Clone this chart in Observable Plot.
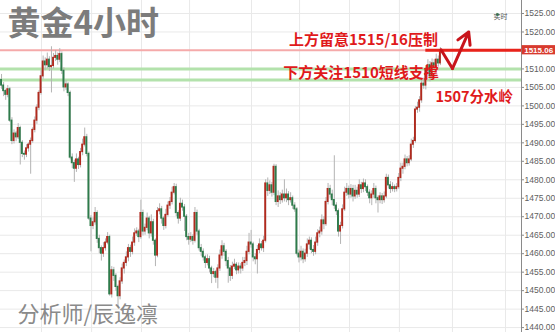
<!DOCTYPE html>
<html>
<head>
<meta charset="utf-8">
<script src="https://cdn.jsdelivr.net/npm/d3@7"></script>
<script src="https://cdn.jsdelivr.net/npm/@observablehq/plot@0.6"></script>
<style>
html,body{margin:0;padding:0;background:#fff;}
#chart{width:555px;height:332px;overflow:hidden;}
svg{display:block;}
</style>
</head>
<body>
<div id="chart"></div>
<script>
// ---- data ----
const firstOpen = 1507.0;
const closes = [
 1505.5,1504.0,1503.0,1504.5,1496.0,1490.5,1492.5,1491.5,1494.0,1490.0,1487.0,1486.8,1488.5,1489.5,1490.5,1493.5,1496.0,1499.5,1503.5,1508.0,
 1512.0,1511.0,1512.5,1510.5,1510.8,1513.0,1513.5,1512.5,1514.0,1509.5,1505.0,1505.8,1503.5,1486.0,1484.5,1483.0,1485.5,1484.0,1487.5,1489.5,
 1491.5,1487.0,1469.5,1467.5,1468.5,1471.0,1464.0,1461.5,1460.0,1461.5,1463.0,1464.5,1449.0,1455.5,1454.0,1451.0,1448.5,1452.5,1456.0,1457.5,
 1459.0,1461.5,1460.5,1463.0,1465.5,1466.0,1464.5,1471.0,1466.0,1467.0,1469.5,1465.5,1468.5,1463.5,1459.5,1471.5,1472.0,1469.5,1467.5,1470.5,
 1473.0,1474.0,1476.5,1478.0,1471.0,1469.5,1473.5,1472.5,1470.0,1464.5,1463.8,1464.5,1463.5,1471.0,1466.0,1461.5,1460.5,1459.0,1457.5,1458.5,
 1456.0,1454.5,1455.0,1453.5,1456.0,1459.5,1462.0,1460.5,1458.0,1456.0,1454.0,1456.5,1457.0,1455.5,1456.5,1456.0,1457.5,1458.0,1460.5,1463.0,
 1462.5,1459.0,1458.5,1461.0,1462.5,1461.5,1463.5,1479.0,1477.0,1478.5,1476.5,1483.5,1474.0,1475.5,1474.5,1476.0,1475.0,1476.0,1474.5,1475.0,
 1473.0,1472.0,1460.0,1459.0,1460.5,1458.5,1460.0,1462.5,1463.5,1461.0,1460.5,1463.0,1465.5,1466.0,1469.0,1468.0,1474.0,1477.5,1476.0,1474.5,
 1473.0,1471.5,1466.0,1467.5,1472.0,1476.5,1477.5,1476.0,1477.5,1475.5,1477.0,1476.0,1478.5,1477.5,1479.0,1478.0,1476.5,1475.0,1476.0,1477.5,
 1475.0,1474.5,1475.5,1474.5,1475.5,1480.5,1478.5,1477.5,1478.0,1477.5,1478.0,1480.5,1483.0,1483.5,1485.5,1484.5,1485.5,1489.5,1490.5,1499.0,
 1499.5,1501.5,1506.0,1505.5,1509.5,1511.0,1508.0,1511.5,1510.5,1512.5,1511.5,1515.0
];
const wickUp = [
 1.5,0.8,0.5,1.0,0.5,0.8,1.0,0.6,1.2,0.5,0.6,0.8,1.0,0.5,0.8,0.6,1.0,0.8,0.6,1.5,
 1.5,1.0,1.8,0.8,5.2,1.2,1.5,0.8,1.5,0.6,0.8,1.0,0.5,0.5,1.0,0.8,1.5,0.6,1.0,1.5,
 2.5,0.8,0.5,0.8,1.2,1.5,0.6,1.0,0.6,1.5,1.0,1.2,0.5,1.0,0.8,0.6,0.5,1.0,1.2,0.8,
 1.5,1.0,0.8,1.5,1.2,1.0,0.6,3.5,0.8,1.0,1.5,0.6,2.0,0.8,0.5,1.0,1.5,0.8,0.6,1.5,
 1.0,1.2,1.5,1.0,0.8,0.6,1.5,1.0,0.8,0.6,1.0,1.2,0.6,1.5,0.8,0.6,1.0,0.8,0.6,1.2,
 0.8,0.6,1.0,0.5,1.0,1.5,1.5,0.8,0.6,1.0,0.8,1.2,1.5,0.6,1.0,0.8,1.5,1.0,1.5,2.5,
 3.3,0.6,1.0,1.2,1.5,0.8,1.2,1.0,1.5,1.2,0.8,0.7,0.6,1.5,1.0,1.2,4.0,1.5,0.8,1.5,
 0.6,0.8,0.5,1.0,1.5,0.8,1.2,1.5,1.0,0.8,1.2,1.5,1.0,1.2,1.5,1.0,1.2,1.5,1.0,1.2,
 12.0,0.8,0.6,1.0,1.2,1.5,1.5,0.8,1.2,1.0,1.5,1.0,1.5,0.8,1.2,1.0,0.6,0.8,1.0,1.5,
 0.8,0.6,1.0,0.8,1.2,1.0,0.8,1.0,1.2,0.6,1.0,1.2,1.5,1.0,1.2,0.8,1.0,1.5,1.0,0.8,
 1.5,1.0,1.2,1.5,1.0,1.5,1.0,1.2,1.0,1.5,1.0,0.8
];
const wickDn = [
 1.0,1.5,1.5,0.8,0.5,1.0,0.8,1.2,0.6,6.0,1.0,1.5,0.8,1.0,8.0,0.6,0.8,1.0,0.8,0.6,
 0.8,1.5,1.0,1.2,7.0,0.8,1.0,1.5,0.8,1.0,1.2,0.8,1.0,0.6,1.5,3.7,1.0,1.2,0.8,1.0,
 0.6,0.8,0.5,7.0,1.0,0.8,1.2,1.5,2.0,1.0,0.8,0.6,0.5,1.0,1.5,1.2,3.2,1.0,0.8,1.5,
 1.0,1.2,1.5,0.8,1.0,0.8,1.5,0.6,1.2,1.0,0.8,1.5,1.0,1.2,3.0,0.6,1.0,1.5,1.2,0.8,
 0.6,1.0,0.8,0.6,1.0,1.5,0.8,1.0,4.0,1.0,1.5,0.8,1.2,0.6,1.0,0.8,1.2,1.0,1.5,0.8,
 1.2,2.6,1.0,1.5,3.0,0.8,1.0,1.2,1.5,4.0,1.5,1.0,0.8,1.2,1.0,1.5,0.8,1.0,1.2,0.8,
 1.0,1.2,1.5,4.0,1.0,0.8,1.2,0.6,1.5,1.0,1.2,0.8,1.0,1.5,1.2,0.8,1.0,1.2,1.5,0.8,
 1.0,0.8,0.6,1.5,1.0,1.2,0.8,1.0,1.5,1.0,1.2,0.8,1.0,1.2,1.0,1.5,0.6,0.8,1.0,1.5,
 1.0,1.2,1.5,3.5,0.8,0.6,1.0,1.2,1.0,1.5,0.8,1.0,0.8,1.2,1.0,1.2,1.0,1.5,2.0,1.0,
 1.5,3.5,1.0,1.2,0.8,0.6,1.0,1.2,0.8,1.0,0.8,0.6,1.0,1.5,0.8,1.0,0.8,0.6,1.0,0.6,
 1.0,1.2,0.8,1.0,1.2,0.8,1.5,1.0,1.2,0.8,1.0,0.6
];
const yTicks = [1440,1445,1450,1455,1460,1465,1470,1475,1480,1485,1490,1495,1500,1505,1510,1515,1520,1525];
const dayLines = [19.2,43.3,67.3,90.4,120.2,143.3,167.3,191.3,216.8,242.3];
const lastPrice = 1515.06;
const resistanceStart = 204;
const supports = [1510, 1507];
const titleText = "黄金4小时";
const authorText = "分析师/辰逸凛";
const liveText = "实时";
const noteUpper = {text: "上方留意1515/16压制", i: 209.8, p: 1517.8};
const noteLower = {text: "下方关注1510短线支撑", i: 135.5, p: 1508.9};
const notePivot = {text: "1507分水岭", i: 208.6, p: 1502.4};
const zigzag = [
  {i: 211.3, p: 1515.2},
  {i: 216.8, p: 1510.1},
  {i: 224.6, p: 1520.0}
];

// ---- build candles ----
const candles = closes.map((c, i) => {
  const o = i === 0 ? firstOpen : closes[i - 1];
  return {i, open: o, close: c, high: Math.max(o, c) + wickUp[i], low: Math.min(o, c) - wickDn[i]};
});

const RED = "#b02a1e", GREEN = "#2e7b4b";
const xDomain = [-0.5, 250];
const cjk = "Noto Sans CJK SC, Noto Sans, sans-serif";
const noteStyle = {x: "i", y: "p", text: "text", fill: "#e0191b", fontWeight: "bold", fontFamily: cjk};

const chart = Plot.plot({
  width: 555,
  height: 332,
  marginLeft: 0,
  marginRight: 34,
  marginTop: 0,
  marginBottom: 0,
  x: {domain: xDomain, axis: null},
  y: {domain: [1438.67, 1528.52], axis: null},
  style: {background: "#fff", fontFamily: "Liberation Sans, Arial, sans-serif"},
  marks: [
    Plot.ruleY(yTicks, {stroke: "#e9e9e9", strokeWidth: 1}),
    Plot.ruleX(dayLines, {stroke: "#e9e9e9", strokeWidth: 1}),
    // support bands
    Plot.ruleY(supports, {stroke: "#b3e2ac", strokeWidth: 3}),
    // thin resistance line
    Plot.ruleY([lastPrice], {stroke: "#f5aaaa", strokeWidth: 2}),
    // candles
    Plot.ruleX(candles, {x: "i", y1: "low", y2: "high", stroke: "#b4b4b4", strokeWidth: 1}),
    Plot.rect(candles, {
      x1: d => d.i - 0.46, x2: d => d.i + 0.46,
      y1: d => Math.min(d.open, d.close) - 0.15, y2: d => Math.max(d.open, d.close) + 0.15,
      fill: d => d.close >= d.open ? RED : GREEN
    }),
    // thick resistance line
    Plot.ruleY([lastPrice], {x1: resistanceStart, x2: xDomain[1], stroke: "#e8231b", strokeWidth: 3}),
    // zigzag arrow
    Plot.line(zigzag.slice(0, 2), {x: "i", y: "p", stroke: "#c8141b", strokeWidth: 3}),
    Plot.arrow([zigzag], {
      x1: d => d[1].i, y1: d => d[1].p, x2: d => d[2].i, y2: d => d[2].p,
      stroke: "#c8141b", strokeWidth: 3, headLength: 11, bend: 0
    }),
    // annotations
    Plot.text([noteUpper], {...noteStyle, textAnchor: "end", fontSize: 15}),
    Plot.text([noteLower], {...noteStyle, textAnchor: "start", fontSize: 15}),
    Plot.text([notePivot], {...noteStyle, textAnchor: "start", fontSize: 14.5}),
    // y axis line + ticks
    Plot.ruleX([xDomain[1]], {stroke: "#8a8a8a", strokeWidth: 1}),
    Plot.axisY(yTicks.filter(t => Math.abs(t - lastPrice) > 1), {
      anchor: "right", tickSize: 2, tickPadding: 1, stroke: "#8a8a8a",
      tickFormat: d => d.toFixed(2), fontSize: 8.5, fill: "#606060"
    }),
    // last price box
    Plot.rect([lastPrice], {
      x1: xDomain[1] + 0.3, x2: xDomain[1] + 20,
      y1: d => d - 1.25, y2: d => d + 1.25, fill: "#d83a2e", clip: false
    }),
    Plot.text([lastPrice], {
      x: xDomain[1] + 1.3, y: d => d, text: d => d.toFixed(2), textAnchor: "start",
      fill: "#fff", fontSize: 8, fontWeight: "bold"
    }),
    // live marker
    Plot.dot([liveText], {frameAnchor: "top-right", dx: -24, dy: 14, r: 1.6, fill: "#2e8b57"}),
    Plot.text([liveText], {frameAnchor: "top-right", dx: -14, dy: 14, text: d => d, fill: "#555", fontSize: 7, fontFamily: cjk}),
    // title & author
    Plot.text([titleText], {
      frameAnchor: "top-left", dx: 7, dy: 24, lineAnchor: "middle", textAnchor: "start",
      text: d => d, fill: "#7c7c7c", fontSize: 33, fontWeight: 600, fontFamily: cjk
    }),
    Plot.text([authorText], {
      frameAnchor: "bottom-left", dx: 17, dy: -18, lineAnchor: "middle", textAnchor: "start",
      text: d => d, fill: "#8a8a8a", fontSize: 22, fontFamily: cjk
    })
  ]
});
document.getElementById("chart").appendChild(chart);
</script>
</body>
</html>
